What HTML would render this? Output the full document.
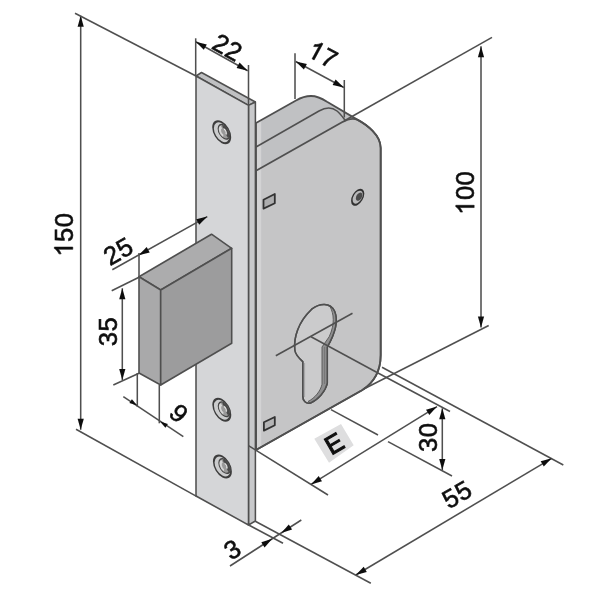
<!DOCTYPE html>
<html><head><meta charset="utf-8"><style>
html,body{margin:0;padding:0;background:#fff;}
svg{display:block;font-family:"Liberation Sans",sans-serif;}
</style></head><body>
<svg width="600" height="600" viewBox="0 0 600 600">
<defs><filter id="soft" x="0" y="0" width="100%" height="100%" filterUnits="userSpaceOnUse"><feGaussianBlur stdDeviation="0.38"/></filter></defs>
<rect width="600" height="600" fill="#ffffff"/>
<g filter="url(#soft)">
<path d="M256,123 L296,100.5 C302,97 306,96 311,96 C317,96 322,98.5 327,101.8 L357.3,119.6 C367,124.8 380.7,135 380.7,148 L380.7,355 C380.7,370 375,382 362,390.3 L256,450 Z" fill="#c0c1c3" stroke="none" stroke-width="1.55" stroke-linejoin="round" stroke-linecap="round" />
<path d="M256,170.7 L342,122.3 C346,120 352,117.5 357.3,119.6 C367,124.8 380.7,135 380.7,148 L380.7,355 C380.7,370 375,382 362,390.3 L256,450 Z" fill="#c5c5c6" stroke="none" stroke-width="1.55" stroke-linejoin="round" stroke-linecap="round" />
<polygon points="256.4,123 261.2,120.4 261.2,446.6 256.4,449.4" fill="#d3d3d4"/>
<path d="M256,123 L296,100.5 C302,97 306,96 311,96 C317,96 322,98.5 327,101.8 L357.3,119.6 C367,124.8 380.7,135 380.7,148 L380.7,355 C380.7,370 375,382 362,390.3 L256,450 Z" fill="none" stroke="#505050" stroke-width="1.8" stroke-linejoin="round" stroke-linecap="round" />
<path d="M256,147 L319,111 C325,107.5 332,107 337,111 C340,113.5 343,117.5 345,120" fill="none" stroke="#505050" stroke-width="1.55" stroke-linejoin="round" stroke-linecap="round" />
<path d="M256,170.7 L342,122.3 C346,120 352,117.5 357.3,119.6 C367,124.8 380.7,135 380.7,148 L380.7,355 C380.7,370 375,382 362,390.3 L256,450 Z" fill="none" stroke="#505050" stroke-width="1.8" stroke-linejoin="round" stroke-linecap="round" />
<polygon points="263.5,199.8 274.8,194 274.8,203.2 263.5,208.6" fill="#adadae" stroke="#333" stroke-width="1.8" stroke-linejoin="round"/>
<polygon points="263.9,422.2 274.8,417 274.8,425.3 263.9,430.6" fill="#b4b4b5" stroke="#333" stroke-width="1.8" stroke-linejoin="round"/>
<path d="M294.8,350 C293.5,338 298,322 311.7,309.2 C320,303 330,302.5 334.5,311 C338,319 336.5,331 327.3,347 L327.3,383.2 C325.5,391.5 318,400 310.5,403 C306,404 302.75,401 302.75,396 L302.75,361.6 C298.7,358 295.5,355 294.8,350 Z" fill="#cbcbcc" stroke="#505050" stroke-width="1.5" stroke-linejoin="round" stroke-linecap="round" />
<path d="M330,306.5 C334,314 335,324 329.2,336.7 L322,347 L322,384.3 C320.5,391 315,398 308,401.5 L310.5,403 C318,400 325.5,391.5 327.3,383.2 L327.3,347 C336.5,331 338,319 334.5,311 C333,308.5 331.5,307 330,306.5 Z" fill="#8f8f90" stroke="#555" stroke-width="0.9" stroke-linejoin="round" stroke-linecap="round" />
<line x1="324.6" y1="347" x2="324.6" y2="384" stroke="#6a6a6a" stroke-width="0.7"/>
<line x1="304.6" y1="363" x2="304.6" y2="397" stroke="#9a9a9a" stroke-width="0.8"/>
<path d="M294.8,350 C293.5,338 298,322 311.7,309.2 C320,303 330,302.5 334.5,311 C338,319 336.5,331 327.3,347 L327.3,383.2 C325.5,391.5 318,400 310.5,403 C306,404 302.75,401 302.75,396 L302.75,361.6 C298.7,358 295.5,355 294.8,350 Z" fill="none" stroke="#505050" stroke-width="1.5" stroke-linejoin="round" stroke-linecap="round" />
<line x1="275.8" y1="355.8" x2="352.5" y2="313.3" stroke="#505050" stroke-width="1.55"/>
<line x1="311" y1="336.7" x2="376.6" y2="372.25" stroke="#505050" stroke-width="1.55"/>
<g transform="matrix(0.86,-0.48,0,1,357.7,197.2)"><circle r="6.8" fill="#b9b9ba" stroke="#333" stroke-width="1.8"/><circle cx="1.6" cy="0.3" r="3.7" fill="#4c4c4c"/></g>
<polygon points="196,76 201.5,72.5 255.4,102 248.5,105.4" fill="#bfc0c2" stroke="#505050" stroke-width="1.55" stroke-linejoin="round"/>
<polygon points="248.5,105.4 255.4,102 255.4,521 248.5,525" fill="#c8c9cb" stroke="#505050" stroke-width="1.55" stroke-linejoin="round"/>
<polygon points="196,76 248.5,105.4 248.5,525 196,496" fill="#d5d6d8" stroke="#505050" stroke-width="1.55" stroke-linejoin="round"/>
<defs><linearGradient id="hg" x1="0" y1="1" x2="1" y2="0"><stop offset="0" stop-color="#d2d2d2"/><stop offset="0.45" stop-color="#a2a2a2"/><stop offset="1" stop-color="#555555"/></linearGradient></defs>
<g transform="matrix(0.866,0.45,0,1,221.7,132.2)"><circle r="10" fill="#cbcccd" stroke="#3c3c3c" stroke-width="1.9"/><circle cx="2.6" cy="-1.6" r="6.7" fill="#9a9a9a" stroke="#444" stroke-width="1.2"/><path d="M0.92,-6.20 A4.9,4.9 0 0 1 6.35,1.55" fill="none" stroke="#4a4a4a" stroke-width="2.6"/><path d="M1.80,2.93 A4.6,4.6 0 0 1 -0.36,-5.12" fill="none" stroke="#d6d6d6" stroke-width="2.4"/><path d="M2.60,-4.20 A2.6,2.6 0 0 1 4.85,-0.30" fill="none" stroke="#ededed" stroke-width="1.1"/></g>
<g transform="matrix(0.866,0.45,0,1,221.8,409.7)"><circle r="10" fill="#cbcccd" stroke="#3c3c3c" stroke-width="1.9"/><circle cx="2.6" cy="-1.6" r="6.7" fill="#9a9a9a" stroke="#444" stroke-width="1.2"/><path d="M0.92,-6.20 A4.9,4.9 0 0 1 6.35,1.55" fill="none" stroke="#4a4a4a" stroke-width="2.6"/><path d="M1.80,2.93 A4.6,4.6 0 0 1 -0.36,-5.12" fill="none" stroke="#d6d6d6" stroke-width="2.4"/><path d="M2.60,-4.20 A2.6,2.6 0 0 1 4.85,-0.30" fill="none" stroke="#ededed" stroke-width="1.1"/></g>
<g transform="matrix(0.866,0.45,0,1,222.4,466.5)"><circle r="10" fill="#cbcccd" stroke="#3c3c3c" stroke-width="1.9"/><circle cx="2.6" cy="-1.6" r="6.7" fill="#9a9a9a" stroke="#444" stroke-width="1.2"/><path d="M0.92,-6.20 A4.9,4.9 0 0 1 6.35,1.55" fill="none" stroke="#4a4a4a" stroke-width="2.6"/><path d="M1.80,2.93 A4.6,4.6 0 0 1 -0.36,-5.12" fill="none" stroke="#d6d6d6" stroke-width="2.4"/><path d="M2.60,-4.20 A2.6,2.6 0 0 1 4.85,-0.30" fill="none" stroke="#ededed" stroke-width="1.1"/></g>
<polygon points="139,276.7 211.5,234.2 231.7,248.3 160.7,290" fill="#acacad" stroke="#505050" stroke-width="1.6" stroke-linejoin="round"/>
<polygon points="139,276.7 160.7,290 160.7,385 139,373" fill="#a9a9aa" stroke="#505050" stroke-width="1.6" stroke-linejoin="round"/>
<polygon points="160.7,290 231.7,248.3 231.7,343.3 160.7,385" fill="#9c9c9d" stroke="#505050" stroke-width="1.6" stroke-linejoin="round"/>
<line x1="80.7" y1="15.7" x2="80.7" y2="429.8" stroke="#505050" stroke-width="1.55"/>
<polygon points="80.7,15.7 83.8,26.7 77.6,26.7" fill="#111"/>
<polygon points="80.7,429.8 77.6,418.8 83.8,418.8" fill="#111"/>
<line x1="75" y1="13.3" x2="196" y2="76" stroke="#505050" stroke-width="1.55"/>
<line x1="76" y1="429.2" x2="197" y2="496.6" stroke="#505050" stroke-width="1.55"/>
<g transform="translate(63.6,234.8) rotate(-90)"><path transform="translate(-21.85,9.16) scale(0.0256,-0.0256)" d="M373 0H285V560Q253 530 202 499T109 454V539Q183 574 238 624T316 719H373Z" fill="#111" stroke="#111" stroke-width="23"/><text x="-7.12" y="9.16" font-size="25.6" fill="#111" stroke="#111" stroke-width="0.6" >5</text><text x="7.62" y="9.16" font-size="25.6" fill="#111" stroke="#111" stroke-width="0.6" >0</text></g>
<line x1="195.7" y1="38.3" x2="195.7" y2="76" stroke="#505050" stroke-width="1.55"/>
<line x1="248.5" y1="65" x2="248.5" y2="105" stroke="#505050" stroke-width="1.55"/>
<line x1="195.7" y1="41.7" x2="247.7" y2="70.7" stroke="#505050" stroke-width="1.55"/>
<polygon points="195.7,41.7 206.8,44.4 203.8,49.8" fill="#111"/>
<polygon points="247.7,70.7 236.6,68.0 239.6,62.6" fill="#111"/>
<g transform="translate(227.6,47) rotate(29)"><text x="-14.48" y="9.16" font-size="25.6" fill="#111" stroke="#111" stroke-width="0.6" >2</text><text x="0.25" y="9.16" font-size="25.6" fill="#111" stroke="#111" stroke-width="0.6" >2</text></g>
<line x1="295" y1="53.3" x2="295" y2="99" stroke="#505050" stroke-width="1.55"/>
<line x1="344.3" y1="80" x2="344.3" y2="117.5" stroke="#505050" stroke-width="1.55"/>
<line x1="295.7" y1="61.5" x2="343.8" y2="87.5" stroke="#505050" stroke-width="1.55"/>
<polygon points="295.7,61.5 306.9,64.0 303.9,69.5" fill="#111"/>
<polygon points="343.8,87.5 332.6,85.0 335.6,79.5" fill="#111"/>
<g transform="translate(322.8,54.2) rotate(28.5)"><path transform="translate(-14.48,9.16) scale(0.0256,-0.0256)" d="M373 0H285V560Q253 530 202 499T109 454V539Q183 574 238 624T316 719H373Z" fill="#111" stroke="#111" stroke-width="23"/><text x="0.25" y="9.16" font-size="25.6" fill="#111" stroke="#111" stroke-width="0.6" >7</text></g>
<line x1="481" y1="46.2" x2="481" y2="327.4" stroke="#505050" stroke-width="1.55"/>
<polygon points="481.0,46.2 484.1,57.2 477.9,57.2" fill="#111"/>
<polygon points="481.0,327.4 477.9,316.4 484.1,316.4" fill="#111"/>
<line x1="344" y1="121" x2="492" y2="37.3" stroke="#505050" stroke-width="1.55"/>
<line x1="363.75" y1="389" x2="488.7" y2="325.5" stroke="#505050" stroke-width="1.55"/>
<g transform="translate(465,193) rotate(-90)"><path transform="translate(-21.85,9.16) scale(0.0256,-0.0256)" d="M373 0H285V560Q253 530 202 499T109 454V539Q183 574 238 624T316 719H373Z" fill="#111" stroke="#111" stroke-width="23"/><text x="-7.12" y="9.16" font-size="25.6" fill="#111" stroke="#111" stroke-width="0.6" >0</text><text x="7.62" y="9.16" font-size="25.6" fill="#111" stroke="#111" stroke-width="0.6" >0</text></g>
<line x1="112.3" y1="269.8" x2="207.3" y2="216.6" stroke="#505050" stroke-width="1.55"/>
<polygon points="138.6,255.2 146.7,247.1 149.7,252.5" fill="#111"/>
<polygon points="207.3,216.6 199.2,224.7 196.2,219.3" fill="#111"/>
<line x1="139" y1="253" x2="139" y2="277" stroke="#505050" stroke-width="1.55"/>
<g transform="translate(118,251) rotate(-30)"><text x="-14.48" y="9.16" font-size="25.6" fill="#111" stroke="#111" stroke-width="0.6" >2</text><text x="0.25" y="9.16" font-size="25.6" fill="#111" stroke="#111" stroke-width="0.6" >5</text></g>
<line x1="122.3" y1="288.3" x2="122.3" y2="380" stroke="#505050" stroke-width="1.55"/>
<polygon points="122.3,288.3 125.4,299.3 119.2,299.3" fill="#111"/>
<polygon points="122.3,380.0 119.2,369.0 125.4,369.0" fill="#111"/>
<line x1="111.7" y1="290.7" x2="139" y2="277.3" stroke="#505050" stroke-width="1.55"/>
<line x1="113.3" y1="385" x2="139" y2="373.3" stroke="#505050" stroke-width="1.55"/>
<g transform="translate(107.5,331.7) rotate(-90)"><text x="-14.48" y="9.16" font-size="25.6" fill="#111" stroke="#111" stroke-width="0.6" >3</text><text x="0.25" y="9.16" font-size="25.6" fill="#111" stroke="#111" stroke-width="0.6" >5</text></g>
<line x1="137.3" y1="373" x2="137.3" y2="406.7" stroke="#505050" stroke-width="1.55"/>
<line x1="159.3" y1="385" x2="159.3" y2="423.3" stroke="#505050" stroke-width="1.55"/>
<line x1="123.3" y1="396.7" x2="183.3" y2="436.7" stroke="#505050" stroke-width="1.55"/>
<polygon points="137.3,405.5 129.4,402.9 131.9,399.2" fill="#111"/>
<polygon points="160.0,421.5 167.9,424.1 165.4,427.8" fill="#111"/>
<g transform="translate(179,413) rotate(45)"><text x="-7.12" y="9.16" font-size="25.6" fill="#111" stroke="#111" stroke-width="0.6" >9</text></g>
<line x1="249.2" y1="525.3" x2="283" y2="543.3" stroke="#505050" stroke-width="1.55"/>
<line x1="255.3" y1="521.3" x2="370.8" y2="583.3" stroke="#505050" stroke-width="1.55"/>
<line x1="230" y1="566" x2="301.3" y2="520" stroke="#505050" stroke-width="1.55"/>
<polygon points="272.2,538.8 264.6,547.4 261.3,542.2" fill="#111"/>
<polygon points="281.2,533.0 288.8,524.4 292.1,529.6" fill="#111"/>
<g transform="translate(232.2,549.2) rotate(-31)"><text x="-7.12" y="9.16" font-size="25.6" fill="#111" stroke="#111" stroke-width="0.6" >3</text></g>
<line x1="248.5" y1="445.6" x2="328" y2="495" stroke="#505050" stroke-width="1.55"/>
<line x1="331" y1="409.6" x2="378" y2="435" stroke="#505050" stroke-width="1.55"/>
<line x1="388" y1="441.6" x2="452" y2="476" stroke="#505050" stroke-width="1.55"/>
<line x1="311" y1="484.4" x2="437" y2="406.6" stroke="#505050" stroke-width="1.55"/>
<polygon points="311.0,484.4 318.7,476.0 322.0,481.3" fill="#111"/>
<polygon points="437.0,406.6 429.3,415.0 426.0,409.7" fill="#111"/>
<polygon points="341,424 353.7,445.3 329,462.7 314.3,438.7" fill="#dededf"/>
<g transform="translate(334,443.2) rotate(-30)"><text x="-8.54" y="9.16" font-size="25.6" fill="#111" stroke="#111" stroke-width="0.6" style="stroke-width:1.05px">E</text></g>
<line x1="442.3" y1="408.3" x2="442.3" y2="470" stroke="#505050" stroke-width="1.55"/>
<polygon points="442.3,408.3 445.4,419.3 439.2,419.3" fill="#111"/>
<polygon points="442.3,470.0 439.2,459.0 445.4,459.0" fill="#111"/>
<line x1="376.6" y1="372.25" x2="450" y2="411.5" stroke="#505050" stroke-width="1.55"/>
<g transform="translate(428.3,437.6) rotate(-90)"><text x="-14.48" y="9.16" font-size="25.6" fill="#111" stroke="#111" stroke-width="0.6" >3</text><text x="0.25" y="9.16" font-size="25.6" fill="#111" stroke="#111" stroke-width="0.6" >0</text></g>
<line x1="382" y1="367.25" x2="563.3" y2="465" stroke="#505050" stroke-width="1.55"/>
<line x1="355.8" y1="575" x2="551.7" y2="458.3" stroke="#505050" stroke-width="1.55"/>
<polygon points="355.8,575.0 363.7,566.7 366.8,572.0" fill="#111"/>
<polygon points="551.7,458.3 543.8,466.6 540.7,461.3" fill="#111"/>
<g transform="translate(456.7,494.2) rotate(-30)"><text x="-14.48" y="9.16" font-size="25.6" fill="#111" stroke="#111" stroke-width="0.6" >5</text><text x="0.25" y="9.16" font-size="25.6" fill="#111" stroke="#111" stroke-width="0.6" >5</text></g>
</g>
</svg>
</body></html>
